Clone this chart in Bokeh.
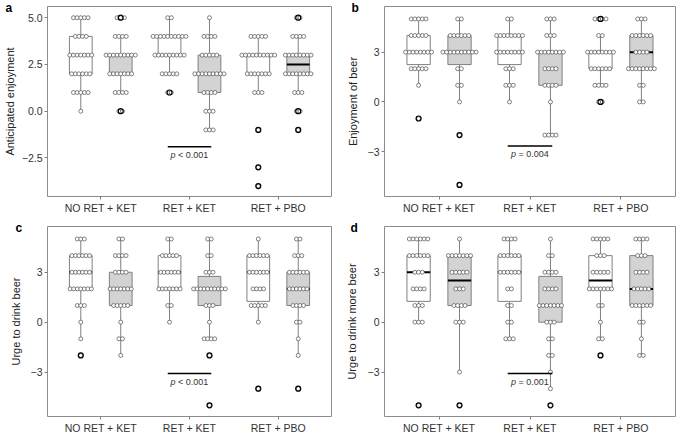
import numpy as np
from bokeh.plotting import figure
from bokeh.layouts import gridplot
from bokeh.models import FixedTicker, Range1d, Title
from bokeh.embed import file_html
from bokeh.resources import INLINE
from bokeh.core.properties import value

FONT = "Liberation Sans"

# ---------------- data ----------------
VALUES = [-5, -4, -3, -2, -1, 0, 1, 2, 3, 4, 5]
CATEGORIES = ["NO RET + KET", "RET + KET", "RET + PBO"]
GROUP_CATEGORY = [1, 1, 2, 2, 3, 3]
GROUP_SIDE = [-1, 1, -1, 1, -1, 1]
GROUP_FILL = ["white", "#d3d3d3"] * 3

# counts of participants per rating (VALUES order), 6 groups per panel
A_COUNTS = [
    [0, 0, 0, 0, 0, 1, 5, 6, 7, 4, 5],
    [0, 0, 0, 0, 0, 2, 4, 7, 9, 4, 3],
    [0, 0, 0, 0, 0, 0, 2, 5, 9, 10, 2],
    [0, 0, 0, 0, 3, 3, 4, 9, 5, 4, 1],
    [0, 1, 1, 0, 1, 0, 3, 7, 10, 5, 0],
    [0, 0, 0, 0, 1, 2, 3, 8, 8, 4, 2],
]
A_Q1 = [2, 2, 3, 1, 2, 2]
A_MED = [3, 3, 3, 2, 3, 2.5]
A_Q3 = [4, 3, 4, 3, 3, 3]
A_LO = [0, 1, 2, -1, 1, 1]
A_HI = [5, 4, 5, 5, 4, 4]

B_COUNTS = [
    [0, 0, 0, 0, 1, 0, 1, 5, 8, 5, 5],
    [1, 0, 0, 1, 0, 1, 2, 2, 10, 6, 2],
    [0, 0, 0, 0, 0, 1, 3, 3, 8, 8, 2],
    [0, 0, 0, 4, 0, 1, 4, 4, 8, 3, 3],
    [0, 0, 0, 0, 0, 2, 4, 6, 8, 2, 4],
    [0, 0, 0, 0, 0, 2, 2, 8, 4, 6, 3],
]
B_Q1 = [2.25, 2.25, 2.25, 1, 2, 2]
B_MED = [3, 3, 3, 3, 3, 3]
B_Q3 = [4, 4, 4, 3, 3, 4]
B_LO = [1, 0, 0, -2, 1, 0]
B_HI = [5, 5, 5, 5, 4, 5]

C_COUNTS = [
    [0, 0, 0, 1, 1, 1, 3, 7, 6, 6, 3],
    [0, 0, 0, 1, 2, 1, 5, 7, 4, 4, 2],
    [0, 0, 0, 0, 0, 1, 2, 7, 6, 5, 2],
    [1, 0, 0, 1, 4, 1, 3, 10, 3, 2, 2],
    [0, 1, 0, 0, 0, 1, 5, 4, 6, 6, 1],
    [0, 1, 0, 1, 1, 2, 4, 6, 6, 3, 2],
]
C_Q1 = [2, 1, 2, 1, 1.25, 1]
C_MED = [3, 2, 3, 2, 3, 2]
C_Q3 = [4, 3, 4, 2.75, 4, 3]
C_LO = [-1, -2, 0, -1, 0, -2]
C_HI = [5, 5, 5, 5, 5, 5]

D_COUNTS = [
    [1, 0, 0, 0, 0, 3, 3, 4, 3, 6, 6],
    [1, 0, 1, 0, 0, 3, 4, 3, 5, 7, 1],
    [0, 0, 0, 0, 3, 2, 2, 2, 6, 6, 4],
    [1, 1, 1, 2, 2, 3, 7, 4, 4, 2, 1],
    [0, 0, 0, 1, 2, 1, 2, 7, 5, 3, 5],
    [0, 0, 0, 2, 1, 2, 6, 5, 4, 3, 4],
]
D_Q1 = [1.25, 1, 1.25, 0, 2, 1]
D_MED = [3, 2.5, 3, 1, 2.5, 2]
D_Q3 = [4, 4, 4, 2.75, 4, 4]
D_LO = [0, -3, -1, -4, -1, -2]
D_HI = [5, 5, 5, 5, 5, 5]

YLABELS = ["Anticipated enjoyment", "Enjoyment of beer",
           "Urge to drink beer", "Urge to drink more beer"]
A_TICKS = [-2.5, 0, 2.5, 5]
A_TICK_LABELS = ["\u22122.5", "0.0", "2.5", "5.0"]
BCD_TICKS = [-3, 0, 3]
BCD_TICK_LABELS = ["\u22123", "0", "3"]
P_TEXT = ["p < 0.001", "p = 0.004", "p < 0.001", "p = 0.001"]
P_Y = [-1.9, -2.65, -3.08, -3.08]

# ---------------- style ----------------
DODGE = 0.225
HALF = 0.128
DOT_PX = 3.7
BOX_LINE = "#808080"


def panel(letter, ylabel, counts, q1, med, q3, lo, hi, yticks, ytick_labels, yr,
          ptext, py, w, h, bl, br, bt, bb, letter_offset, label_standoff):
    p = figure(width=w, height=h, x_range=Range1d(0.4, 3.6), y_range=Range1d(*yr),
               output_backend="svg", toolbar_location=None,
               min_border_left=bl, min_border_right=br,
               min_border_top=bt, min_border_bottom=bb,
               background_fill_color="white", border_fill_color="white")
    fw = w - bl - br
    fh = h - bt - bb
    ppx = fw / 3.2
    ppy = fh / (yr[1] - yr[0])

    xc = [c + s * DODGE for c, s in zip(GROUP_CATEGORY, GROUP_SIDE)]
    xl = [x - HALF for x in xc]
    xr = [x + HALF for x in xc]

    # whiskers
    p.segment(x0=xc, y0=q3, x1=xc, y1=hi, line_color=BOX_LINE, line_width=1)
    p.segment(x0=xc, y0=lo, x1=xc, y1=q1, line_color=BOX_LINE, line_width=1)
    # boxes
    p.quad(left=xl, right=xr, bottom=q1, top=q3, fill_color=GROUP_FILL,
           line_color=BOX_LINE, line_width=1)
    # medians
    p.segment(x0=xl, y0=med, x1=xr, y1=med, line_color="black", line_width=2)

    # dots
    step = DOT_PX / ppx
    dx, dy, ox, oy = [], [], [], []
    for x, cnts, l, hgh in zip(xc, counts, lo, hi):
        for v, n in zip(VALUES, cnts):
            for i in range(n):
                dx.append(x + (i - (n - 1) / 2) * step)
                dy.append(v)
            if n > 0 and (v < l or v > hgh):
                ox.append(x)
                oy.append(v)
    p.scatter(dx, dy, size=4, fill_color="white", line_color="#4d4d4d", line_width=0.7)
    p.scatter(ox, oy, size=5, fill_color=None, line_color="black", line_width=1.2)

    # p value bracket
    p.segment(x0=[2 - 0.245], y0=[py], x1=[2 + 0.245], y1=[py],
              line_color="black", line_width=1.5)
    ty = py - 3.5 / ppy
    p.text(x=[2], y=[ty], text=[ptext[0]], x_offset=-19, text_align="left",
           text_baseline="top", text_font=value(FONT), text_font_style="italic",
           text_font_size="9px", text_color="#333333")
    p.text(x=[2], y=[ty], text=[ptext[2:]], x_offset=-11.5, text_align="left",
           text_baseline="top", text_font=value(FONT), text_font_style="normal",
           text_font_size="9px", text_color="#333333")

    # axes
    p.xaxis.ticker = FixedTicker(ticks=[1, 2, 3])
    p.xaxis.major_label_overrides = {1: CATEGORIES[0], 2: CATEGORIES[1], 3: CATEGORIES[2]}
    p.yaxis.ticker = FixedTicker(ticks=yticks)
    p.yaxis.major_label_overrides = dict(zip(yticks, ytick_labels))
    p.axis.axis_line_color = None
    p.axis.major_tick_line_color = "#7f7f7f"
    p.axis.major_tick_out = 3
    p.axis.major_tick_in = 0
    p.axis.minor_tick_line_color = None
    p.axis.major_label_standoff = 2
    p.axis.major_label_text_font = FONT
    p.axis.major_label_text_font_size = "10.5px"
    p.axis.major_label_text_color = "#333333"
    p.yaxis.axis_label = ylabel
    p.yaxis.axis_label_standoff = label_standoff
    p.yaxis.axis_label_text_font = FONT
    p.yaxis.axis_label_text_font_size = "11px"
    p.yaxis.axis_label_text_font_style = "normal"
    p.yaxis.axis_label_text_color = "#222222"
    p.grid.grid_line_color = None
    p.outline_line_color = "#8c8c8c"
    p.outline_line_width = 1

    p.add_layout(Title(text=letter, align="left", offset=letter_offset, standoff=-16,
                       vertical_align="bottom", text_font=FONT, text_font_style="bold",
                       text_font_size="12px", text_color="black"), "above")
    return p


pa = panel("a", YLABELS[0], A_COUNTS, A_Q1, A_MED, A_Q3, A_LO, A_HI,
           A_TICKS, A_TICK_LABELS, (-4.56, 5.6), P_TEXT[0], P_Y[0],
           340, 218, 43, 9, 6, 22, -42, 3)
pb = panel("b", YLABELS[1], B_COUNTS, B_Q1, B_MED, B_Q3, B_LO, B_HI,
           BCD_TICKS, BCD_TICK_LABELS, (-5.7, 5.75), P_TEXT[1], P_Y[1],
           337, 218, 43, 2, 6, 22, -33, 6)
pc = panel("c", YLABELS[2], C_COUNTS, C_Q1, C_MED, C_Q3, C_LO, C_HI,
           BCD_TICKS, BCD_TICK_LABELS, (-5.67, 5.75), P_TEXT[2], P_Y[2],
           340, 218, 33, 9, 8, 20, -32, 6)
pd = panel("d", YLABELS[3], D_COUNTS, D_Q1, D_MED, D_Q3, D_LO, D_HI,
           BCD_TICKS, BCD_TICK_LABELS, (-5.67, 5.75), P_TEXT[3], P_Y[3],
           337, 218, 44, 2, 8, 20, -34, 7)

grid = gridplot([[pa, pb], [pc, pd]], toolbar_location=None)

with open("out.html", "w") as f:
    f.write(file_html(grid, INLINE))
